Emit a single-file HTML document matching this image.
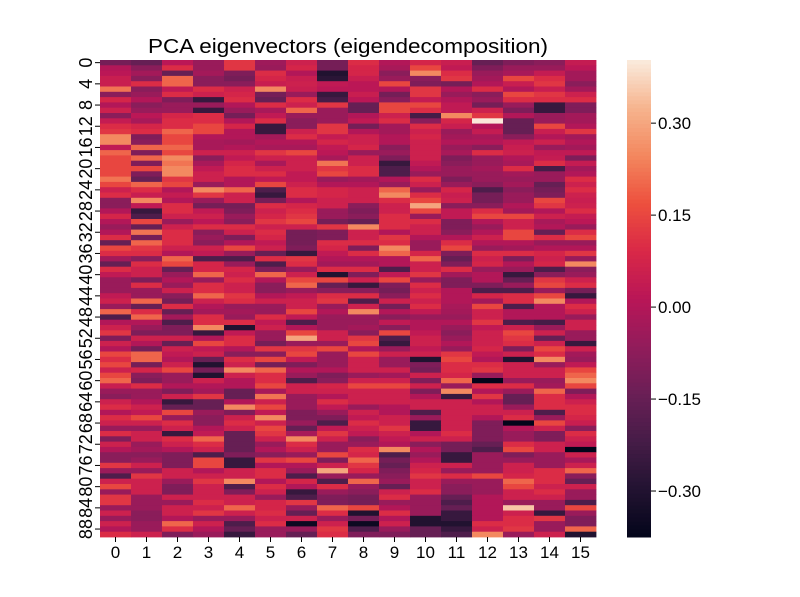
<!DOCTYPE html>
<html><head><meta charset="utf-8"><style>
html,body{margin:0;padding:0;background:#fff;}
svg{display:block;font-family:"Liberation Sans","DejaVu Sans",sans-serif;}
</style></head><body>
<svg id="chart" width="800" height="597" viewBox="0 0 800 597" xmlns="http://www.w3.org/2000/svg">
<text x="348" y="53" font-size="20" text-anchor="middle" textLength="400" lengthAdjust="spacingAndGlyphs">PCA eigenvectors (eigendecomposition)</text>
<g id="cells"></g>
<g id="axes"></g>
<g id="cbar"></g>
</svg>
<script>
const columns = [0,1,2,3,4,5,6,7,8,9,10,11,12,13,14,15];
const rowTickLabels = [0,4,8,12,16,20,24,28,32,36,40,44,48,52,56,60,64,68,72,76,80,84,88];
const colorbarTicks = [0.30,0.15,0.00,-0.15,-0.30];
const vmin = -0.375, vmax = 0.403;
// values in hundredths
const rows = [
[-12,-15,2,-5,12,-4,6,-12,10,0,8,5,-15,-10,-8,4],
[0,-8,10,-5,12,-5,8,-12,8,-2,15,3,-10,-5,-5,2],
[2,-3,-15,-3,-10,10,0,-30,8,-8,25,10,-5,-2,4,-3],
[5,-8,20,-8,-12,8,5,-28,5,-5,-8,12,-3,15,10,-3],
[5,10,20,-8,-8,5,6,3,2,15,-10,-12,0,5,12,-8],
[22,-8,3,10,6,25,5,2,2,0,12,0,10,0,5,-3],
[-8,-5,10,6,8,-12,-5,-25,5,-12,12,-5,-8,15,12,6],
[8,0,-10,-25,10,-15,10,-22,2,-8,4,0,-5,10,10,10],
[0,-8,-5,-5,0,10,6,12,-15,15,15,3,-12,-5,-25,-10],
[6,-5,-5,-25,-5,-2,20,-5,-15,15,10,3,6,-10,-25,-10],
[-8,2,8,10,-12,3,-5,-5,0,6,-22,25,12,0,-5,-3],
[4,-2,10,10,0,10,-8,-5,3,10,-8,8,40,-15,-5,-3],
[10,8,10,15,8,-25,-8,12,-12,-3,10,5,0,-15,15,0],
[12,10,20,15,0,-25,6,12,0,-3,6,-5,4,-15,5,12],
[25,-10,15,0,0,-3,10,4,6,0,8,-3,-2,-8,0,-3],
[25,-8,15,-2,-3,0,0,8,6,0,6,0,0,3,6,0],
[3,20,20,-2,0,-2,-2,3,8,-8,6,-5,-8,5,-5,-3],
[20,-10,15,6,6,12,15,2,-5,-5,6,-2,10,6,3,3],
[15,20,25,-8,3,6,6,-2,6,-10,6,-10,-5,0,4,-10],
[15,-10,22,-2,8,-2,6,22,6,-25,3,-8,-5,-2,10,4],
[15,15,25,3,10,6,6,12,10,-20,0,-5,-3,10,-22,-3],
[15,-10,25,6,10,10,3,15,10,-20,-5,-5,-5,-3,-5,0],
[22,-15,12,6,0,3,3,-5,-3,0,10,-10,-5,-5,-5,10],
[15,20,15,-5,0,15,6,0,0,-5,6,-5,-8,-3,-15,6],
[6,10,0,25,20,-20,10,8,6,20,-5,8,-20,-8,-12,10],
[10,5,4,12,6,-25,10,8,6,25,10,5,-12,-5,-10,6],
[-8,25,0,-5,6,-12,0,6,6,10,15,6,-12,-5,15,5],
[-8,3,10,-12,-12,10,8,6,-8,6,30,-8,-8,0,12,6],
[0,-25,10,3,-10,6,10,-5,-10,6,15,3,10,-3,0,10],
[8,-20,6,6,-5,8,12,-5,-8,10,-5,3,15,15,6,4],
[0,15,-5,2,-8,12,15,-12,-15,10,10,-10,0,6,-2,2],
[-5,-15,6,10,10,6,6,12,25,10,6,-10,-5,6,0,-5],
[0,22,10,-8,6,10,-12,-10,6,0,6,-8,0,15,-15,10],
[10,-12,10,-5,-10,8,-12,-10,6,12,0,0,6,15,10,15],
[-15,20,10,-8,0,3,-12,10,10,10,-5,10,0,0,-5,-5],
[15,12,6,6,15,6,-10,8,-10,25,-5,15,-5,-3,0,0],
[10,10,0,3,-5,-15,-25,3,10,20,8,-10,10,10,8,12],
[-3,-8,20,-20,-20,10,12,0,0,0,20,-15,6,-10,6,-5],
[-15,10,15,8,-5,-20,10,-3,-3,0,6,-10,8,0,8,25],
[10,6,-15,8,8,-10,-5,10,10,-20,6,10,-5,-5,-20,-8],
[3,6,-5,20,6,20,6,-30,-10,3,12,-3,0,-25,-8,-5],
[-5,-10,0,-5,10,0,15,15,6,15,-5,-10,0,-15,12,6],
[-5,10,-5,10,6,-8,20,-15,-25,-10,10,-10,-10,-5,15,10],
[-5,-5,6,10,6,-8,-5,-8,-8,-12,6,0,-20,-20,-5,-12],
[3,-5,-8,20,12,0,3,10,10,-8,10,0,8,10,15,-25],
[6,20,-12,6,10,6,6,12,-20,6,6,0,-3,10,25,0],
[-5,-15,10,0,-5,-5,6,-5,6,-12,10,-2,15,-20,0,10],
[20,10,-15,-3,-3,-5,15,0,25,0,3,-3,6,0,0,6],
[-20,20,-3,10,-5,10,3,-5,-5,-8,-5,-5,6,0,0,-5],
[0,0,-20,10,10,3,-20,-5,-5,3,0,0,12,-20,-22,6],
[6,-5,-10,25,-30,6,0,-5,-3,-8,0,-5,3,6,-5,6],
[12,-10,-10,-25,3,-5,15,6,-8,15,3,-8,6,15,6,-5],
[-10,6,6,0,10,-5,30,6,12,-20,6,-5,6,12,-15,-5],
[6,0,-15,15,10,-12,-5,-5,15,-25,6,0,6,10,6,-25],
[0,-12,6,3,0,12,12,15,0,-5,3,-5,8,-10,15,6],
[15,20,3,6,-8,-8,15,-5,15,6,6,12,3,6,10,-3],
[10,20,0,-15,10,15,3,-5,6,-5,-30,15,0,-30,25,-5],
[15,-12,6,-30,6,-12,-10,-5,6,-5,-10,10,10,6,-5,3],
[6,8,15,-12,25,20,0,0,6,6,-12,10,12,6,6,15],
[15,-8,-5,-30,6,10,-5,-10,-5,-3,6,8,-5,6,6,20],
[20,-10,-5,6,0,10,-20,-8,6,6,-10,20,-38,-5,-5,25],
[5,10,0,0,0,15,6,8,15,15,6,-5,10,10,-3,15],
[-5,-5,-10,-3,-15,-2,6,6,6,6,-10,25,0,-5,20,-10],
[-8,-5,6,12,-15,22,-5,0,6,6,0,-25,12,-15,10,0],
[6,0,-25,-15,0,6,-5,10,6,6,6,6,0,-15,10,6],
[10,6,-15,-15,25,15,-5,3,-5,0,6,6,6,-5,10,10],
[0,3,15,-5,-10,3,-10,-5,6,0,-20,6,6,6,-20,10],
[10,15,-5,-8,6,25,-10,-10,3,6,-5,6,0,10,-5,8],
[6,6,10,-8,10,6,-5,-20,10,6,-25,6,-10,-38,15,5],
[-5,-5,6,0,6,15,-15,3,6,12,-25,6,-10,0,6,-8],
[10,6,-25,3,-15,12,-2,12,3,6,0,10,-10,-5,-10,10],
[-10,6,10,20,-15,6,25,6,-8,3,6,6,-10,-5,-10,6],
[6,-5,6,10,-15,-5,10,-5,-5,0,-8,-12,-15,10,6,3],
[0,-3,0,6,-15,0,6,-5,10,25,0,-12,-20,15,6,-38],
[-8,-8,-10,-20,-10,-8,-5,15,8,-20,-5,-25,-5,-10,-5,6],
[-8,-5,-10,15,-25,12,15,-10,20,-12,0,-25,-5,-5,-5,-2],
[12,6,-10,15,-25,0,0,6,12,-15,6,6,-5,6,-5,6],
[-5,-5,6,0,6,10,-5,30,8,-10,8,-5,-5,6,10,20],
[-20,12,6,6,6,10,-20,-5,-5,-8,12,10,15,8,10,-8],
[6,6,-5,12,25,0,8,-20,20,-5,6,-5,-5,20,10,-15],
[15,6,-10,6,-20,10,0,10,-5,-15,6,-8,-5,15,6,6],
[-5,6,-10,6,-10,6,-25,-5,-8,6,10,-8,-5,6,10,-5],
[12,-5,6,6,6,-5,-20,-10,-12,10,-5,-15,0,6,6,-5],
[12,-5,-5,10,6,8,12,-10,-12,-5,-5,-20,0,-5,-5,-20],
[-5,-5,6,6,20,8,-5,20,15,0,-5,-15,0,35,-5,15],
[6,-8,6,12,6,10,-15,10,-30,10,-5,-25,0,6,-25,-5],
[-5,-8,0,-5,-5,6,6,-5,-12,0,-30,-25,0,10,12,-10],
[6,-5,20,6,-20,10,-35,6,-35,6,-30,-30,10,10,-5,-10],
[0,-5,10,0,-15,-5,-5,12,-20,-5,-15,-25,6,12,-5,20],
[10,6,-10,-5,-25,-5,-15,10,-10,-10,-15,-20,25,-5,6,-30]
];
const NS="http://www.w3.org/2000/svg";
const PX0=100, PX1=596, PY0=60, PY1=537;
const nR=rows.length, nC=columns.length;
const cw=(PX1-PX0)/nC, rh=(PY1-PY0)/nR;
const xCenter=c=>PX0+(c+0.5)*cw;
const yCenter=r=>PY0+(r+0.5)*rh;
const stops=[[0,[3,5,26]],[0.1,[34,19,49]],[0.2,[69,28,71]],[0.3,[106,31,86]],[0.4,[146,28,91]],[0.5,[185,22,87]],[0.6,[217,40,71]],[0.7,[237,80,62]],[0.8,[243,135,94]],[0.9,[246,180,142]],[1,[250,235,221]]];
function cmap(t){t=Math.max(0,Math.min(1,t));for(let i=1;i<stops.length;i++){if(t<=stops[i][0]){const a=stops[i-1],b=stops[i],f=(t-a[0])/(b[0]-a[0]);const c=a[1].map((v,k)=>Math.round(v+(b[1][k]-v)*f));return `rgb(${c[0]},${c[1]},${c[2]})`;}}return 'rgb(250,235,221)';}
const colorOf=v=>cmap((v-vmin)/(vmax-vmin));
function el(tag,attrs,parent,txt){const e=document.createElementNS(NS,tag);for(const k in attrs)e.setAttribute(k,attrs[k]);if(txt!==undefined)e.textContent=txt;parent.appendChild(e);return e;}
const cells=document.getElementById('cells');
rows.forEach((row,r)=>{row.forEach((v,c)=>{
  const rc=el('rect',{x:(PX0+c*cw).toFixed(2),y:(PY0+r*rh).toFixed(2),width:(cw+0.4).toFixed(2),height:(rh+0.4).toFixed(2),fill:colorOf(v/100)},cells);
  
  
});});
const axes=document.getElementById('axes');
columns.forEach((c,i)=>{
  const x=xCenter(i);
  const t=el('line',{x1:x,y1:PY1,x2:x,y2:PY1+5,stroke:'#000','stroke-width':1},axes);
  
  
  const l=el('text',{x:x,y:PY1+21,'font-size':17,'text-anchor':'middle'},axes,String(c));
  
  
});
rowTickLabels.forEach(r=>{
  const y=yCenter(r);
  const t=el('line',{x1:PX0-5,y1:y,x2:PX0,y2:y,stroke:'#000','stroke-width':1},axes);
  
  
  const l=el('text',{x:0,y:0,'font-size':18,'text-anchor':'middle',transform:`translate(92,${y.toFixed(2)}) rotate(-90)`},axes,String(r));
  
  
});
const cb=document.getElementById('cbar');
const CX0=627, CX1=651, CY0=60, CY1=537;
const cy=v=>CY1-(v-vmin)/(vmax-vmin)*(CY1-CY0);
for(let i=0;i<120;i++){
  const v0=vmin+(vmax-vmin)*i/120, v1=vmin+(vmax-vmin)*(i+1)/120;
  const s=el('rect',{x:CX0,y:cy(v1).toFixed(2),width:CX1-CX0,height:(cy(v0)-cy(v1)+0.5).toFixed(2),fill:colorOf((v0+v1)/2)},cb);
  
  
}
colorbarTicks.forEach(v=>{
  const y=cy(v);
  const t=el('line',{x1:CX1,y1:y,x2:CX1+5,y2:y,stroke:'#000','stroke-width':1},cb);
  
  
  const txt=(v<0?'\u2212':'')+Math.abs(v).toFixed(2);
  const l=el('text',{x:CX1+7,y:y+6,'font-size':17},cb,txt);
  
  
});
</script>
</body></html>
